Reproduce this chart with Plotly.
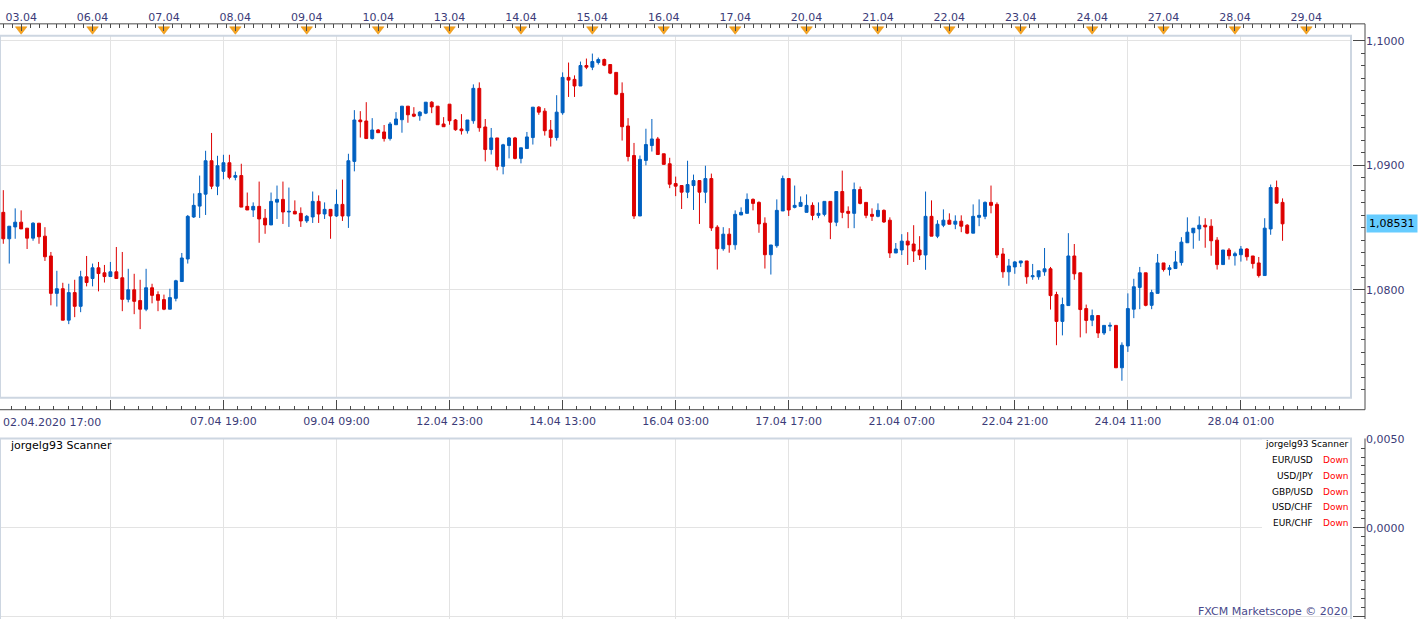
import plotly.graph_objects as go

# ---------------- data (EUR/USD, 2-hour candles) ----------------
opens = [1.08623,1.08411,1.08506,1.08544,1.08496,1.08416,1.08536,1.08432,1.08273,1.07973,
1.08010,1.07758,1.07979,1.07869,1.08106,1.08092,1.08178,1.08138,1.08108,1.08146,
1.08098,1.07925,1.08002,1.07915,1.07846,1.08018,1.07963,1.07923,1.07846,1.07933,
1.08068,1.08249,1.08586,1.08673,1.08769,1.09037,1.08833,1.08952,1.09021,1.08904,
1.08918,1.08671,1.08642,1.08671,1.08576,1.08522,1.08705,1.08727,1.08626,1.08631,
1.08615,1.08554,1.08586,1.08711,1.08610,1.08647,1.08594,1.08687,1.08594,1.09032,
1.09364,1.09356,1.09215,1.09284,1.09268,1.09215,1.09326,1.09366,1.09475,1.09411,
1.09398,1.09419,1.09507,1.09475,1.09332,1.09491,1.09364,1.09292,1.09278,1.09358,
1.09618,1.09308,1.09127,1.09220,1.08992,1.09159,1.09220,1.09056,1.09135,1.09223,
1.09467,1.09435,1.09284,1.09223,1.09422,1.09706,1.09690,1.09637,1.09801,1.09788,
1.09825,1.09849,1.09809,1.09746,1.09578,1.09316,1.09079,1.08594,1.09040,1.09159,
1.09212,1.09093,1.09013,1.08854,1.08838,1.08785,1.08838,1.08878,1.08785,1.08894,
1.08504,1.08331,1.08448,1.08363,1.08602,1.08615,1.08727,1.08703,1.08536,1.08283,
1.08355,1.08634,1.08894,1.08663,1.08671,1.08623,1.08679,1.08599,1.08607,1.08711,
1.08544,1.08790,1.08631,1.08615,1.08806,1.08703,1.08607,1.08591,1.08639,1.08560,
1.08297,1.08321,1.08392,1.08369,1.08321,1.08281,1.08591,1.08432,1.08520,1.08560,
1.08528,1.08552,1.08520,1.08456,1.08583,1.08591,1.08703,1.08687,1.08289,1.08146,
1.08185,1.08217,1.08233,1.08106,1.08106,1.08146,1.08170,1.07963,1.07748,1.07875,
1.08273,1.08138,1.07851,1.07758,1.07795,1.07655,1.07710,1.07716,1.07376,1.07551,
1.07846,1.08021,1.08138,1.07877,1.07973,1.08217,1.08164,1.08172,1.08220,1.08379,
1.08459,1.08490,1.08520,1.08512,1.08400,1.08204,1.08321,1.08275,1.08283,1.08329,
1.08273,1.08217,1.08116,1.08490,1.08822,1.08703]

highs = [1.08801,1.08512,1.08655,1.08639,1.08496,1.08544,1.08536,1.08504,1.08305,1.08154,
1.08058,1.08050,1.08082,1.08154,1.08273,1.08212,1.08225,1.08201,1.08225,1.08345,
1.08305,1.08170,1.08130,1.08082,1.08170,1.08050,1.07989,1.07963,1.08010,1.08082,
1.08297,1.08602,1.08775,1.08918,1.09117,1.09260,1.09077,1.09085,1.09085,1.08950,
1.09013,1.08782,1.08703,1.08870,1.08650,1.08782,1.08838,1.08870,1.08822,1.08719,
1.08663,1.08602,1.08790,1.08759,1.08703,1.08647,1.08806,1.08886,1.09093,1.09443,
1.09435,1.09507,1.09379,1.09292,1.09324,1.09348,1.09427,1.09475,1.09475,1.09467,
1.09435,1.09507,1.09515,1.09475,1.09387,1.09491,1.09372,1.09411,1.09364,1.09650,
1.09666,1.09372,1.09300,1.09220,1.09173,1.09228,1.09228,1.09141,1.09268,1.09467,
1.09475,1.09459,1.09364,1.09563,1.09746,1.09825,1.09722,1.09833,1.09857,1.09897,
1.09865,1.09857,1.09809,1.09746,1.09666,1.09379,1.09180,1.09079,1.09294,1.09372,
1.09228,1.09093,1.09061,1.08910,1.08838,1.09037,1.08926,1.08878,1.08997,1.08934,
1.08520,1.08504,1.08496,1.08639,1.08663,1.08775,1.08735,1.08711,1.08583,1.08361,
1.08727,1.08918,1.08894,1.08838,1.08751,1.08767,1.08703,1.08703,1.08711,1.08711,
1.08790,1.08958,1.08671,1.08862,1.08830,1.08703,1.08655,1.08695,1.08647,1.08583,
1.08377,1.08448,1.08464,1.08520,1.08432,1.08790,1.08719,1.08560,1.08647,1.08615,
1.08599,1.08599,1.08528,1.08687,1.08727,1.08711,1.08838,1.08703,1.08337,1.08249,
1.08233,1.08233,1.08233,1.08209,1.08154,1.08337,1.08185,1.07986,1.07939,1.08456,
1.08369,1.08138,1.07883,1.07843,1.07795,1.07716,1.07740,1.07716,1.07580,1.07973,
1.08090,1.08185,1.08138,1.08002,1.08289,1.08217,1.08201,1.08313,1.08424,1.08583,
1.08496,1.08591,1.08576,1.08568,1.08424,1.08321,1.08337,1.08307,1.08353,1.08337,
1.08273,1.08265,1.08576,1.08846,1.08878,1.08735]

lows = [1.08371,1.08212,1.08411,1.08490,1.08329,1.08395,1.08371,1.08233,1.07877,1.07867,
1.07758,1.07726,1.07782,1.07822,1.08029,1.08029,1.07989,1.08060,1.08108,1.08092,
1.07830,1.07901,1.07806,1.07686,1.07830,1.07893,1.07830,1.07838,1.07846,1.07909,
1.08068,1.08212,1.08578,1.08578,1.08602,1.08809,1.08761,1.08888,1.08888,1.08880,
1.08665,1.08642,1.08586,1.08379,1.08451,1.08522,1.08570,1.08530,1.08506,1.08610,
1.08506,1.08538,1.08538,1.08538,1.08570,1.08411,1.08586,1.08554,1.08498,1.08952,
1.09223,1.09215,1.09207,1.09262,1.09191,1.09199,1.09326,1.09262,1.09342,1.09387,
1.09358,1.09411,1.09419,1.09326,1.09310,1.09326,1.09278,1.09247,1.09255,1.09334,
1.09270,1.09032,1.09087,1.08960,1.08928,1.09056,1.09048,1.09016,1.09135,1.09167,
1.09406,1.09239,1.09151,1.09199,1.09406,1.09549,1.09549,1.09637,1.09772,1.09764,
1.09809,1.09796,1.09732,1.09563,1.09199,1.09032,1.08570,1.08594,1.09000,1.09111,
1.09087,1.09008,1.08817,1.08753,1.08650,1.08737,1.08642,1.08530,1.08697,1.08474,
1.08164,1.08315,1.08299,1.08323,1.08602,1.08615,1.08639,1.08459,1.08172,1.08124,
1.08339,1.08634,1.08594,1.08655,1.08671,1.08623,1.08560,1.08576,1.08591,1.08408,
1.08512,1.08576,1.08496,1.08496,1.08687,1.08576,1.08554,1.08583,1.08538,1.08257,
1.08297,1.08281,1.08201,1.08225,1.08241,1.08162,1.08432,1.08416,1.08504,1.08528,
1.08488,1.08464,1.08448,1.08456,1.08512,1.08568,1.08615,1.08257,1.08098,1.08034,
1.08130,1.08185,1.08050,1.08082,1.08082,1.08114,1.07843,1.07557,1.07636,1.07875,
1.08082,1.07620,1.07652,1.07710,1.07615,1.07639,1.07670,1.07376,1.07272,1.07503,
1.07774,1.07846,1.07869,1.07846,1.07973,1.08148,1.08116,1.08172,1.08196,1.08379,
1.08331,1.08395,1.08339,1.08275,1.08164,1.08204,1.08244,1.08196,1.08228,1.08236,
1.08172,1.08100,1.08116,1.08443,1.08697,1.08395]

closes = [1.08411,1.08512,1.08544,1.08490,1.08416,1.08536,1.08427,1.08267,1.07973,1.08010,
1.07758,1.07979,1.07869,1.08106,1.08060,1.08178,1.08132,1.08108,1.08146,1.08092,
1.07925,1.08002,1.07909,1.07846,1.08018,1.07957,1.07917,1.07846,1.07939,1.08074,
1.08257,1.08591,1.08679,1.08775,1.09037,1.08833,1.08997,1.09021,1.08904,1.08918,
1.08665,1.08642,1.08671,1.08570,1.08522,1.08711,1.08727,1.08626,1.08631,1.08610,
1.08554,1.08591,1.08711,1.08610,1.08647,1.08594,1.08687,1.08594,1.09037,1.09364,
1.09350,1.09215,1.09284,1.09262,1.09215,1.09332,1.09372,1.09475,1.09406,1.09395,
1.09427,1.09507,1.09469,1.09326,1.09310,1.09358,1.09286,1.09278,1.09364,1.09618,
1.09302,1.09127,1.09220,1.08992,1.09165,1.09220,1.09056,1.09141,1.09228,1.09467,
1.09427,1.09278,1.09223,1.09427,1.09706,1.09684,1.09637,1.09801,1.09788,1.09833,
1.09849,1.09804,1.09740,1.09571,1.09310,1.09071,1.08594,1.09048,1.09167,1.09212,
1.09087,1.09008,1.08849,1.08833,1.08785,1.08846,1.08878,1.08785,1.08894,1.08498,
1.08331,1.08448,1.08363,1.08607,1.08623,1.08727,1.08695,1.08530,1.08283,1.08361,
1.08639,1.08894,1.08642,1.08679,1.08703,1.08679,1.08599,1.08615,1.08711,1.08544,
1.08790,1.08623,1.08615,1.08806,1.08695,1.08599,1.08591,1.08639,1.08546,1.08297,
1.08329,1.08392,1.08361,1.08313,1.08281,1.08591,1.08432,1.08528,1.08560,1.08528,
1.08552,1.08512,1.08456,1.08591,1.08599,1.08703,1.08679,1.08281,1.08146,1.08193,
1.08225,1.08233,1.08106,1.08114,1.08154,1.08170,1.07955,1.07748,1.07883,1.08273,
1.08130,1.07843,1.07756,1.07795,1.07655,1.07716,1.07716,1.07376,1.07557,1.07851,
1.08026,1.08138,1.07877,1.07979,1.08217,1.08164,1.08178,1.08225,1.08384,1.08464,
1.08496,1.08520,1.08506,1.08395,1.08204,1.08321,1.08275,1.08291,1.08329,1.08267,
1.08212,1.08116,1.08496,1.08822,1.08697,1.08531]

bar_index = list(range(len(opens)))

# bottom time axis (bar index -> label)
time_tick_index = [18, 37, 56, 75, 94, 113, 132, 151, 170, 189, 208]
time_tick_text = ["", "07.04 19:00", "09.04 09:00", "12.04 23:00", "14.04 13:00",
                  "16.04 03:00", "17.04 17:00", "21.04 07:00", "22.04 21:00",
                  "24.04 11:00", "28.04 01:00"]
first_label = "02.04.2020 17:00"

# top date ruler (first bar of each trading day)
day_index = [3, 15, 27, 39, 51, 63, 75, 87, 99, 111, 123, 135, 147, 159, 171, 183, 195, 207, 219]
day_text = ["03.04", "06.04", "07.04", "08.04", "09.04", "10.04", "13.04", "14.04", "15.04",
            "16.04", "17.04", "20.04", "21.04", "22.04", "23.04", "24.04", "27.04", "28.04", "29.04"]

price_ticks = [1.08, 1.09, 1.10]
osc_ticks = [-0.005, 0.0, 0.005]
last_price = closes[-1]
last_price_text = "1,08531"

scanner_pairs = ["EUR/USD", "USD/JPY", "GBP/USD", "USD/CHF", "EUR/CHF"]
scanner_state = ["Down", "Down", "Down", "Down", "Down"]

# ---------------- styling ----------------
W, H = 1423, 619
BLUE = "#0060c0"
RED = "#dd0000"
GRID = "#e3e3e3"
AXIS = "#4a4a4a"
FRAME = "#cdd6e1"
LABEL = "#3b3b78"
FONT = "DejaVu Sans"


def px(x):
    return x / W


def py(y):
    return 1 - y / H


X_RANGE = [-0.555, 226.67]
X_DOM = [0, px(1352)]
AXIS_X = px(1365)

fig = go.Figure()

fig.add_trace(go.Candlestick(
    x=bar_index, open=opens, high=highs, low=lows, close=closes,
    increasing=dict(line=dict(color=BLUE, width=1), fillcolor=BLUE),
    decreasing=dict(line=dict(color=RED, width=1), fillcolor=RED),
    whiskerwidth=0, hoverinfo="skip", xaxis="x", yaxis="y", showlegend=False))

# day markers on the top ruler
fig.add_trace(go.Scatter(
    x=day_index, y=[0.45] * len(day_index), mode="markers",
    marker=dict(symbol="triangle-down", size=10, color="#f6a31f",
                line=dict(width=0.5, color="#e08a00")),
    xaxis="x2", yaxis="y2", hoverinfo="skip", showlegend=False, cliponaxis=False))

# empty oscillator panel
fig.add_trace(go.Scatter(x=[None], y=[None], xaxis="x3", yaxis="y3",
                         showlegend=False, hoverinfo="skip"))

minor_ruler = [d + k * 1.5 for d in [-9] + day_index for k in range(1, 8)]
minor_time = [g + k * 19 / 8 for g in [-1] + time_tick_index for k in range(1, 8)]

fig.update_layout(
    width=W, height=H, margin=dict(l=0, r=0, t=0, b=0),
    paper_bgcolor="white", plot_bgcolor="white",
    separators=",.",
    font=dict(family=FONT, size=11, color=LABEL),
    boxgap=0.3,
    xaxis=dict(domain=X_DOM, range=X_RANGE, anchor="free", position=py(408),
               tickmode="array", tickvals=time_tick_index, ticktext=time_tick_text,
               ticks="inside", ticklen=10, tickcolor=AXIS, tickwidth=1,
               ticklabelstandoff=3,
               showgrid=True, gridcolor=GRID, gridwidth=1, zeroline=False,
               showline=False, rangeslider=dict(visible=False),
               minor=dict(tickmode="array", tickvals=minor_time, ticks="inside",
                          ticklen=4, tickcolor=AXIS, showgrid=False),
               tickfont=dict(family=FONT, size=11, color=LABEL)),
    yaxis=dict(domain=[py(396), py(31)], range=[1.07135, 1.10040], side="right",
               anchor="free", position=AXIS_X, tickmode="array", tickvals=price_ticks,
               tickformat=".4f", ticks="inside", ticklen=12, tickcolor=AXIS,
               showgrid=True, gridcolor=GRID, zeroline=False, showline=False,
               minor=dict(tickmode="linear", tick0=1.08, dtick=0.001, ticks="inside",
                          ticklen=4, tickcolor=AXIS, showgrid=False),
               tickfont=dict(family=FONT, size=11, color=LABEL)),
    xaxis2=dict(domain=X_DOM, range=X_RANGE, anchor="y2", side="top",
                tickmode="array", tickvals=day_index, ticktext=day_text,
                ticks="inside", ticklen=7, tickcolor=AXIS, showgrid=False,
                zeroline=False, showline=False,
                minor=dict(tickmode="array", tickvals=minor_ruler, ticks="inside",
                           ticklen=4, tickcolor=AXIS, showgrid=False),
                tickfont=dict(family=FONT, size=11, color=LABEL)),
    yaxis2=dict(domain=[py(29), py(19)], range=[0, 1], anchor="x2", visible=False),
    xaxis3=dict(domain=X_DOM, range=X_RANGE, anchor="y3", tickmode="array",
                tickvals=time_tick_index, showticklabels=False, ticks="",
                showgrid=True, gridcolor=GRID, zeroline=False, showline=False),
    yaxis3=dict(domain=[0, py(437)], range=[-0.005169, 0.005056], side="right",
                anchor="free", position=AXIS_X, tickmode="array", tickvals=osc_ticks,
                tickformat=".4f", ticks="inside", ticklen=12, tickcolor=AXIS,
                showgrid=True, gridcolor=GRID, zeroline=False, showline=False,
                minor=dict(tickmode="linear", tick0=0, dtick=0.0005, ticks="inside",
                           ticklen=4, tickcolor=AXIS, showgrid=False),
                tickfont=dict(family=FONT, size=11, color=LABEL)),
)

shapes = [
    # main plot frame
    dict(type="rect", xref="paper", yref="paper", x0=px(0), x1=px(1351), y0=py(396), y1=py(31),
         line=dict(color=FRAME, width=2), fillcolor="rgba(0,0,0,0)", layer="above"),
    # ruler line
    dict(type="line", xref="paper", yref="paper", x0=0, x1=px(1365), y0=py(19), y1=py(19),
         line=dict(color=AXIS, width=1)),
    # right axis line (price)
    dict(type="line", xref="paper", yref="paper", x0=AXIS_X, x1=AXIS_X, y0=py(408), y1=py(19),
         line=dict(color=AXIS, width=1)),
    # bottom time axis line
    dict(type="line", xref="paper", yref="paper", x0=0, x1=AXIS_X, y0=py(408), y1=py(408),
         line=dict(color=AXIS, width=1)),
    # oscillator panel frame
    dict(type="rect", xref="paper", yref="paper", x0=px(0), x1=px(1351), y0=py(621), y1=py(437),
         line=dict(color=FRAME, width=2), fillcolor="rgba(0,0,0,0)", layer="above"),
    # white box behind scanner table
    dict(type="rect", xref="paper", yref="paper", x0=px(1262), x1=px(1350), y0=py(530), y1=py(438),
         line=dict(width=0), fillcolor="white", layer="above"),
    # oscillator axis line
    dict(type="line", xref="paper", yref="paper", x0=AXIS_X, x1=AXIS_X, y0=py(621), y1=py(437),
         line=dict(color=AXIS, width=1)),
]
fig.update_layout(shapes=shapes)

ann = [
    dict(text=first_label, x=px(1), y=py(421), xref="paper", yref="paper", xanchor="left",
         yanchor="middle", showarrow=False, font=dict(family=FONT, size=11, color=LABEL)),
    dict(text=last_price_text, x=px(1366), y=last_price, xref="paper", yref="y",
         xanchor="left", yanchor="middle", showarrow=False, bgcolor="#66ccff", borderpad=2,
         font=dict(family=FONT, size=11, color="black")),
    dict(text="jorgelg93 Scanner", x=px(8), y=py(444), xref="paper", yref="paper",
         xanchor="left", yanchor="middle", showarrow=False,
         font=dict(family=FONT, size=11, color="black")),
    dict(text="jorgelg93 Scanner", x=px(1350), y=py(443), xref="paper", yref="paper",
         xanchor="right", yanchor="middle", showarrow=False,
         font=dict(family=FONT, size=9, color="black")),
    dict(text="FXCM Marketscope © 2020", x=px(1350), y=py(611), xref="paper", yref="paper",
         xanchor="right", yanchor="middle", showarrow=False,
         font=dict(family=FONT, size=11, color="#4a4a8c")),
]
row_y = [459, 475, 491, 506, 522]
for pair, state, yy in zip(scanner_pairs, scanner_state, row_y):
    ann.append(dict(text=pair, x=px(1315), y=py(yy), xref="paper", yref="paper",
                    xanchor="right", yanchor="middle", showarrow=False,
                    font=dict(family=FONT, size=9, color="black")))
    ann.append(dict(text=state, x=px(1321), y=py(yy), xref="paper", yref="paper",
                    xanchor="left", yanchor="middle", showarrow=False,
                    font=dict(family=FONT, size=9, color="#ff0000")))
fig.update_layout(annotations=ann)

fig.write_html("out.html")
